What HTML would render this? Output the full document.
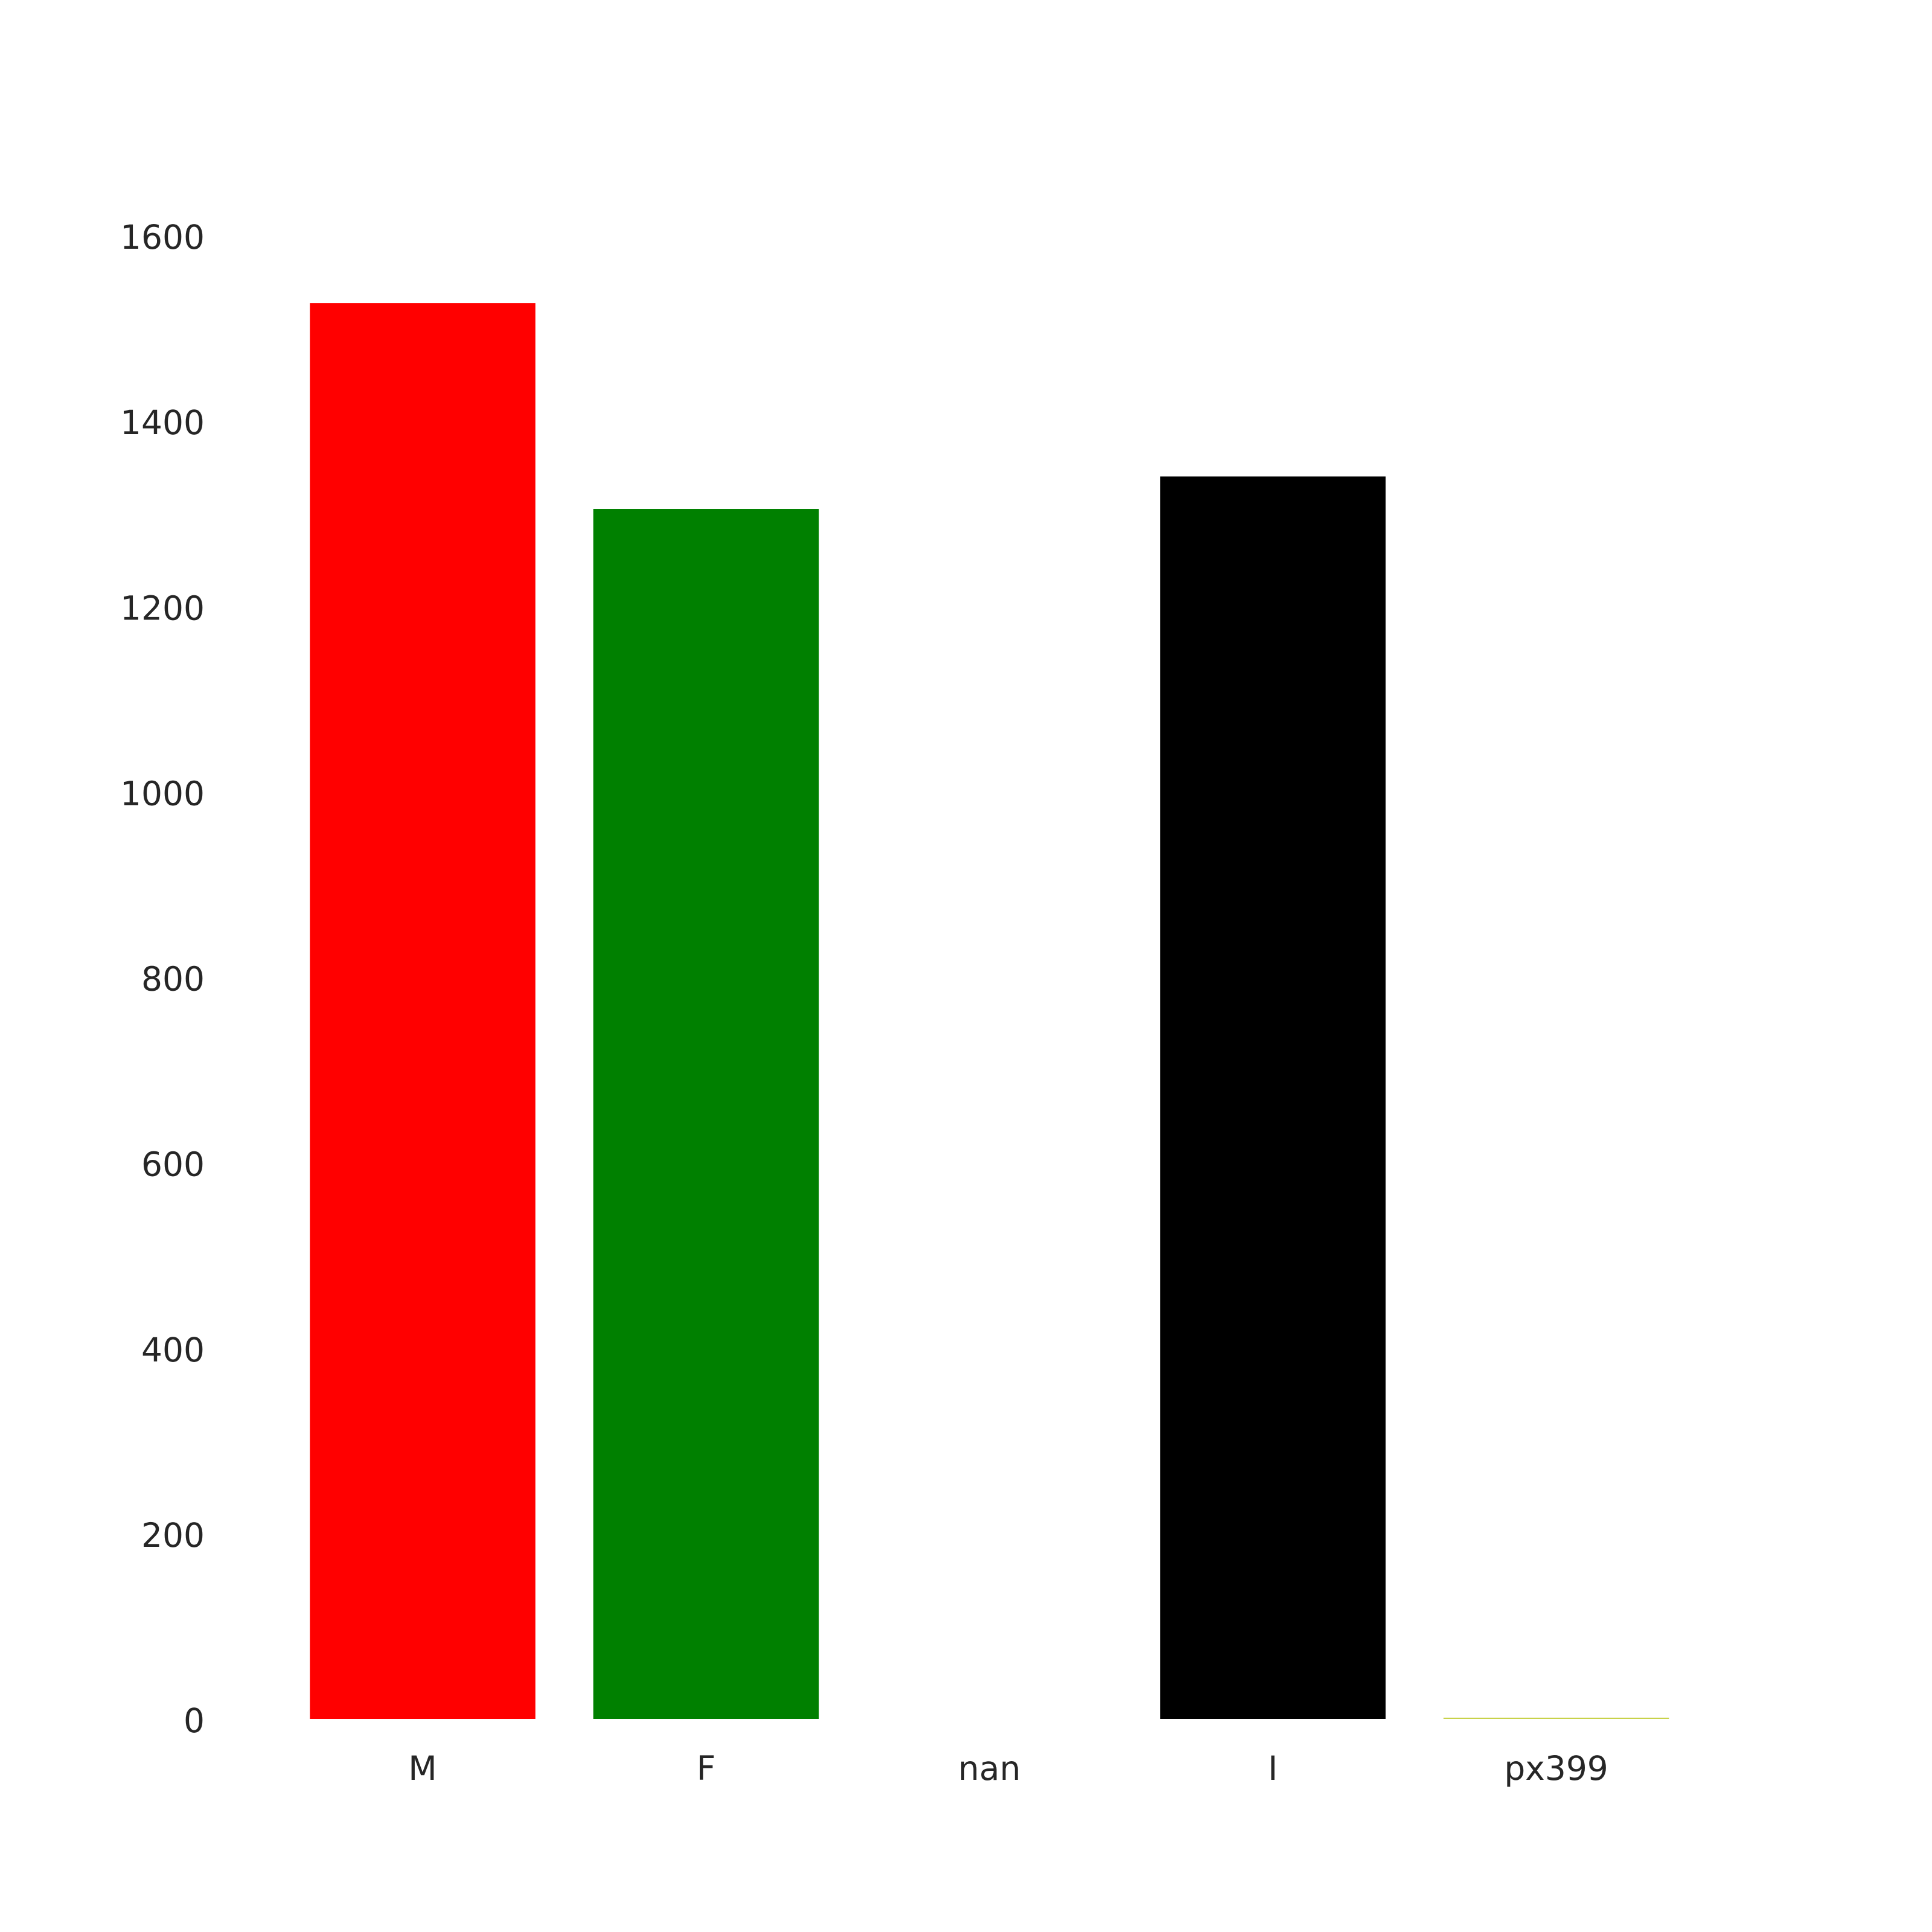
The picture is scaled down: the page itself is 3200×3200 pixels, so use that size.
<!DOCTYPE html>
<html><head><meta charset="utf-8"><style>
html,body{margin:0;padding:0;background:#fff;}
svg{display:block;}
text{font-family:"DejaVu Sans","Liberation Sans",sans-serif;fill:#262626;}
</style></head><body>
<svg id="chart" width="3200" height="3200" viewBox="0 0 3200 3200">
<g id="yticks"></g>
<g id="bars"></g>
<g id="xticks"></g>
</svg>
<script>
const categories = ["M","F","nan","I","px399"];
const values = [1527, 1305, 0, 1340, 1];
const colors = ["#ff0000","#008000","#ffffff","#000000","#c8d24a"];
const yTicks = [0,200,400,600,800,1000,1200,1400,1600];

const NS="http://www.w3.org/2000/svg";
const baseY=2847, topY=390, yMax=1600;
function yScale(v){return baseY-(baseY-topY)*v/yMax;}
const x0=700, step=469.4, barW=373.5;
function xScale(i){return x0+step*i;}

const yg=document.getElementById('yticks');
yTicks.forEach(t=>{
  const el=document.createElementNS(NS,'text');
  
  
  el.setAttribute('x',339);el.setAttribute('y',yScale(t)+22);
  el.setAttribute('text-anchor','end');el.setAttribute('font-size','55');
  el.textContent=t;yg.appendChild(el);
});
const bg=document.getElementById('bars');
values.forEach((v,i)=>{
  const r=document.createElementNS(NS,'rect');
  
  
  const h=Math.max(baseY-yScale(v), v>0?2:0);
  r.setAttribute('x',xScale(i)-barW/2);r.setAttribute('y',baseY-h);
  r.setAttribute('width',barW);r.setAttribute('height',h);
  r.setAttribute('fill',colors[i]);bg.appendChild(r);
});
const xg=document.getElementById('xticks');
categories.forEach((c,i)=>{
  const el=document.createElementNS(NS,'text');
  
  
  el.setAttribute('x',xScale(i));el.setAttribute('y',2948);
  el.setAttribute('text-anchor','middle');el.setAttribute('font-size','55');
  el.textContent=c;xg.appendChild(el);
});
</script>
</body></html>
